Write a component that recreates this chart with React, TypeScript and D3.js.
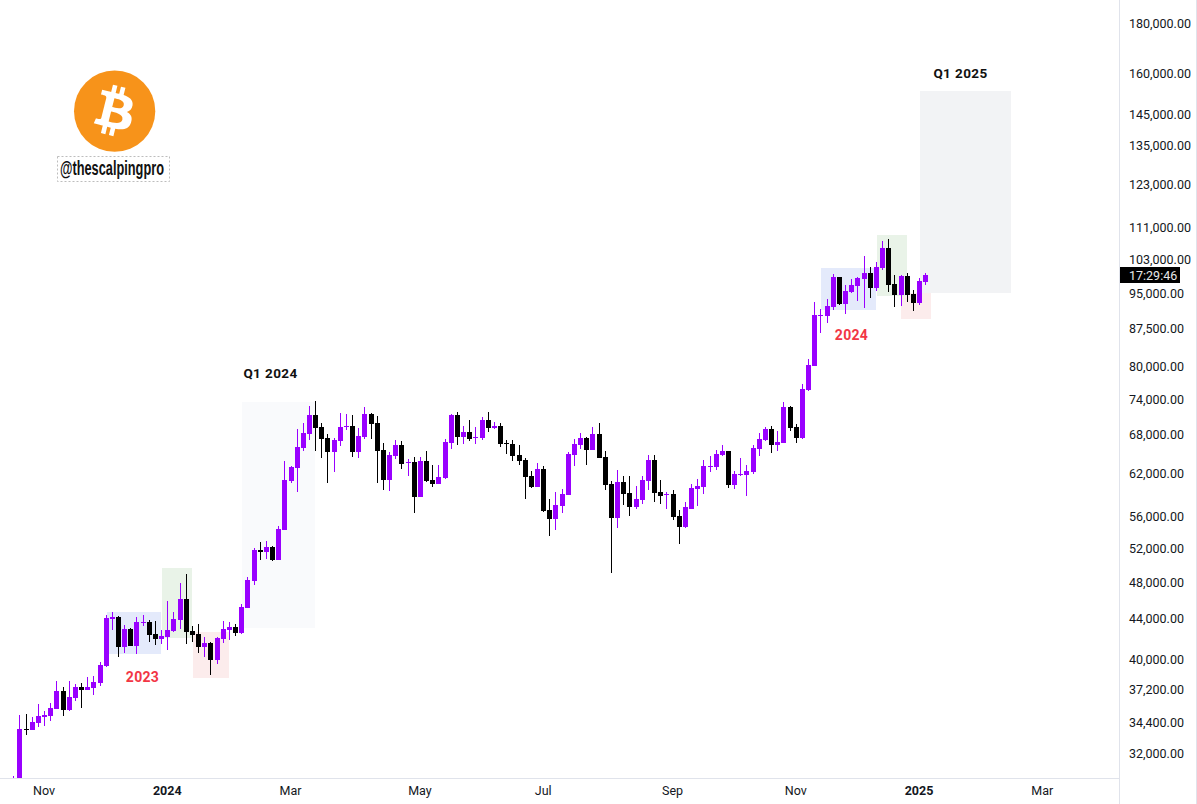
import React from "react";
import * as d3 from "d3";

type Bar = [number, number, number, number];

// [open, high, low, close], one bar every 3 days
const barsLate2023: Bar[] = [
  [28900,30300,28500,29600],[30000,35010,29800,33870],[33870,35090,33390,33790],[33790,34850,33790,34440],
  [34350,35930,34030,34930],[34850,35340,34110,35010],[34930,36020,34520,35590],[35510,37940,35510,37050],
  [37050,37410,34930,35430],[35430,37940,35340,36530],[36450,37670,36190,37410],[37410,37760,35590,37140],
  [37140,38300,37140,37410],[37320,38390,36710,37850],[37760,39690,37500,39410],[39310,44350,39220,44040],
  [43930,44670,42810,44140],[44140,44250,40160,41120],[41120,43310,40540,42910],[42910,43010,41220,41220],
  [41220,44140,40440,43620],[43520,44350,43210,43620],[43620,43830,41610,42300],[42400,43730,41310,41910],
  [41910,42810,41410,42200],
];
const barsEarly2024: Bar[] = [
  [42100,45850,40820,42810],[42700,44670,42600,43930],[43830,47840,42910,46070],[46070,48870,41410,42600],
  [42700,43210,41610,42300],[42400,43420,40540,41120],[41120,42100,40160,41510],[41510,41610,38480,39880],
  [39880,42100,39500,42000],[41910,43730,41510,42910],[42810,43620,41810,43110],[43110,43420,42200,42500],
  [42500,45520,42400,45200],[45090,48530,45090,48180],[48070,51970,47610,51720],[51720,52710,50510,51480],
  [51480,52840,50640,52090],[52090,52210,50390,50510],[50510,54740,50510,54360],[54230,63840,54230,61040],
  [60890,63090,60600,62940],[62790,68860,59330,65990],[65840,69840,65370,68210],[68050,72710,67090,71180],
  [71180,73570,65370,69030],[69190,69840,64300,67250],[67410,68050,60600,65210],[65210,67410,62200,67090],
  [66930,71510,66150,69190],[69190,71350,68700,69350],[69350,71180,64450,65210],[65210,69030,64300,67730],
  [67570,72540,67250,71350],[71350,71510,67250,69670],[69840,71010,60600,65370],[65530,66620,59610,61040],
  [61040,65210,59470,64750],[64600,67090,64150,66300],[66300,66930,62640,63390],[63540,64150,61620,63690],
  [63690,64450,56450,58630],[58630,64450,58630,63840],[63840,65370,60750,60890],[61040,63240,60030,60460],
  [60460,63240,60460,61470],
];
const barsMid2024: Bar[] = [
  [61330,67250,61180,66770],[66620,71350,65680,71180],[71180,71680,66300,67570],[67570,69350,66460,68370],
  [68370,70340,66930,67250],[67410,69190,66460,67570],[67410,70840,67090,70340],[70340,71680,68370,69030],
  [69030,70010,68860,69350],[69350,69840,65990,66460],[66620,67090,64900,66460],[66460,67090,63840,64600],
  [64750,66300,63240,63840],[63990,64300,58350,61470],[61620,62350,59890,60030],[60030,63540,60030,62640],
  [62640,63090,56590,56720],[56860,58350,53460,55660],[55660,59330,54230,57530],[57400,59750,56450,59050],
  [58910,65210,58910,64900],[64750,67250,63090,66460],[66300,68210,65680,67410],[67410,67570,63240,65530],
  [65530,69190,65530,68050],[68050,69840,64300,64300],[64450,65370,59610,60310],[60460,60890,48980,55790],
  [55790,62500,54490,60750],[60750,61620,57530,59050],[59190,61620,56060,57260],[57260,60170,56990,58350],
  [58220,61620,57660,61040],[60890,64750,59610,63990],[63990,64750,57940,59190],[59330,61040,57660,58770],
  [58910,59330,56990,59050],[59050,59610,55530,55920],[56060,56860,52460,54620],[54620,57940,54490,57260],
  [56990,60460,56990,59890],[59750,61180,57400,60170],[60030,63990,59050,63090],[62940,64600,62200,63090],
  [62940,65530,62500,64900],[64750,66300,64600,65370],[65370,65370,59890,60310],[60310,62350,59750,61910],
  [61760,64300,61620,61910],[61760,63240,58770,62350],[62200,66300,61910,65840],[65680,68210,64600,67250],
  [67090,69190,66930,68860],[68860,69350,65060,66300],[66300,68530,65370,66770],
];
const barsLate2024: Bar[] = [
  [66620,73400,66620,72540],[72540,72710,68530,69030],[69190,69670,66620,67410],[67410,76590,67250,75690],
  [75510,81260,75330,80110],[79920,92990,79920,90170],[89960,91460,86410,90170],[89960,93650,88480,92110],
  [91890,99350,91240,98650],[98650,98650,92320,92540],[92540,96800,90380,95430],[95200,98190,94980,96800],
  [96570,98650,93200,98420],[98190,103670,91670,99580],[99580,101010,93870,96120],[96120,102210,95430,101010],
  [100770,107420,100290,105660],[105660,107930,95200,96800],[97020,99110,91890,94530],[94530,99110,92110,98880],
  [98880,99580,92980,94530],[94760,95650,91030,92760],[92760,98420,92320,97720],[97490,99580,96800,99110],
];

const priceTicks = [180000,160000,145000,135000,123000,111000,103000,95000,87500,80000,74000,68000,62000,56000,52000,48000,44000,40000,37200,34400,32000];
// time axis: days since 2024-01-01
const timeTickDays = [-60,0,60,123,183,246,306,366,426];
const timeTickLabels = ["Nov","2024","Mar","May","Jul","Sep","Nov","2025","Mar"];
const timeTickBold = [false,true,false,false,false,false,false,true,false];

// [start day, end day, top price, bottom price]
const redZones: [number,number,number,number][] = [[12.5,30,42600,38210],[357.2,371.8,94980,89320]];
const blueZones: [number,number,number,number][] = [[-29.5,-3.07,44670,40440],[318.3,345,100770,91240]];
const greenZones: [number,number,number,number][] = [[-2.58,12.03,49570,42000],[345.5,360,108956,94315]];
const quarterZones: [number,number,number,number,string][] = [
  [36.4,71.9,73400,43010,"#f9fafc"],
  [366.5,410.7,153280,94980,"#f2f3f5"],
];

const UP = "#9900ff";
const DOWN = "#000000";
const INK = "#131722";
const FONT = "Roboto, 'Liberation Sans', sans-serif";

const firstBarIndex = -25; // bars in 3-day steps, index 0 = 2024-01-01

export default function App() {
  const bars = [...barsLate2023, ...barsEarly2024, ...barsMid2024, ...barsLate2024];
  const x = d3.scaleLinear().domain([0, 366]).range([167.3, 919]);
  const y = d3.scaleLog().domain([32000, 180000]).range([753, 23]);

  const zone = (z: number[], fill: string, key: string) => (
    <rect key={key} x={Math.round(x(z[0]))} width={Math.round(x(z[1])) - Math.round(x(z[0]))}
      y={Math.round(y(z[2]))} height={Math.round(y(z[3])) - Math.round(y(z[2]))} fill={fill} />
  );

  return (
    <svg width={1197} height={804} viewBox="0 0 1197 804"
      style={{ position: "absolute", left: 0, top: 0, display: "block", background: "#fff" }}>
      <defs>
        <clipPath id="pane"><rect x={0} y={0} width={1119} height={778} /></clipPath>
      </defs>

      <g clipPath="url(#pane)">
        {redZones.map((z, i) => zone(z, "#fcecec", "r" + i))}
        {quarterZones.map((z, i) => zone(z as unknown as number[], z[4], "q" + i))}
        {blueZones.map((z, i) => zone(z, "#e4eafb", "b" + i))}
        {greenZones.map((z, i) => zone(z, "#e9f3e8", "g" + i))}

        {bars.map((b, k) => {
          const [o, h, l, c] = b;
          const cx = Math.round(x((k + firstBarIndex) * 3));
          const col = c >= o ? UP : DOWN;
          const top = Math.round(y(Math.max(o, c)));
          const bot = Math.round(y(Math.min(o, c)));
          const yh = Math.round(y(h));
          const yl = Math.round(y(l));
          return (
            <g key={k} fill={col} shapeRendering="crispEdges">
              <rect x={cx} width={1} y={yh} height={Math.max(1, yl - yh)} />
              <rect x={cx - 2} width={5} y={top} height={Math.max(1, bot - top)} />
            </g>
          );
        })}
      </g>

      {/* logo */}
      <g transform="translate(74,70.5) scale(1.27)">
        <circle cx={32} cy={32} r={32} fill="#f7931a" />
        <path fill="#fff" d="M46.11 27.441c.636-4.258-2.606-6.547-7.039-8.074l1.438-5.768-3.512-.875-1.4 5.616c-.922-.23-1.87-.447-2.812-.662l1.41-5.653-3.509-.875-1.439 5.766c-.764-.174-1.514-.346-2.242-.527l.004-.018-4.842-1.209-.934 3.75s2.605.597 2.55.634c1.422.355 1.68 1.296 1.636 2.042l-1.638 6.571c.098.025.225.061.365.117l-.37-.092-2.297 9.205c-.174.432-.615 1.08-1.609.834.035.051-2.552-.637-2.552-.637l-1.743 4.02 4.57 1.139c.85.213 1.683.436 2.502.646l-1.453 5.835 3.507.875 1.44-5.772c.957.26 1.887.5 2.797.726L27.504 50.8l3.511.875 1.453-5.823c5.987 1.133 10.49.676 12.383-4.738 1.527-4.36-.075-6.875-3.225-8.516 2.294-.531 4.022-2.04 4.483-5.157zM38.087 38.69c-1.086 4.36-8.426 2.004-10.807 1.412l1.928-7.729c2.38.594 10.011 1.77 8.88 6.317zm1.085-11.312c-.99 3.966-7.1 1.951-9.082 1.457l1.748-7.01c1.982.494 8.365 1.416 7.334 5.553z" />
      </g>
      <rect x={57.5} y={156.5} width={112} height={25} fill="#fff" stroke="#bdbdbd" strokeWidth={1} strokeDasharray="2 2" />
      <text x={60} y={175} fontFamily="'Liberation Sans', sans-serif" fontWeight={700} fontSize={20}
        textLength={104} lengthAdjust="spacingAndGlyphs" fill="#111">@thescalpingpro</text>

      {/* annotations */}
      <text x={270.5} y={378} textAnchor="middle" fontFamily={FONT} fontWeight={700} fontSize={13.5} letterSpacing={0.4} fill="#111">Q1 2024</text>
      <text x={960.5} y={78} textAnchor="middle" fontFamily={FONT} fontWeight={700} fontSize={13.5} letterSpacing={0.4} fill="#111">Q1 2025</text>
      <text x={142.5} y={682} textAnchor="middle" fontFamily={FONT} fontWeight={700} fontSize={14} letterSpacing={0.3} fill="#f23645">2023</text>
      <text x={851.5} y={340} textAnchor="middle" fontFamily={FONT} fontWeight={700} fontSize={14} letterSpacing={0.3} fill="#f23645">2024</text>

      {/* axes */}
      <line x1={0} x2={1119} y1={778.5} y2={778.5} stroke="#e0e3eb" />
      <line x1={1119.5} x2={1119.5} y1={0} y2={804} stroke="#e0e3eb" />
      <line x1={1196.5} x2={1196.5} y1={0} y2={804} stroke="#e0e3eb" />
      {priceTicks.map((p) => (
        <text key={p} x={1129} y={y(p) + 5} fontFamily={FONT} fontSize={12.5} fill={INK}>
          {d3.format(",.2f")(p)}
        </text>
      ))}
      {timeTickDays.map((d, i) => (
        <text key={i} x={x(d)} y={795} textAnchor="middle" fontFamily={FONT} fontSize={12.5}
          fontWeight={timeTickBold[i] ? 700 : 400} fill={INK}>{timeTickLabels[i]}</text>
      ))}

      {/* countdown label */}
      <rect x={1120} y={267} width={60} height={16} fill="#000" />
      <text x={1129} y={279.5} fontFamily={FONT} fontSize={12.5} fill="#e8e8e8">17:29:46</text>
    </svg>
  );
}
